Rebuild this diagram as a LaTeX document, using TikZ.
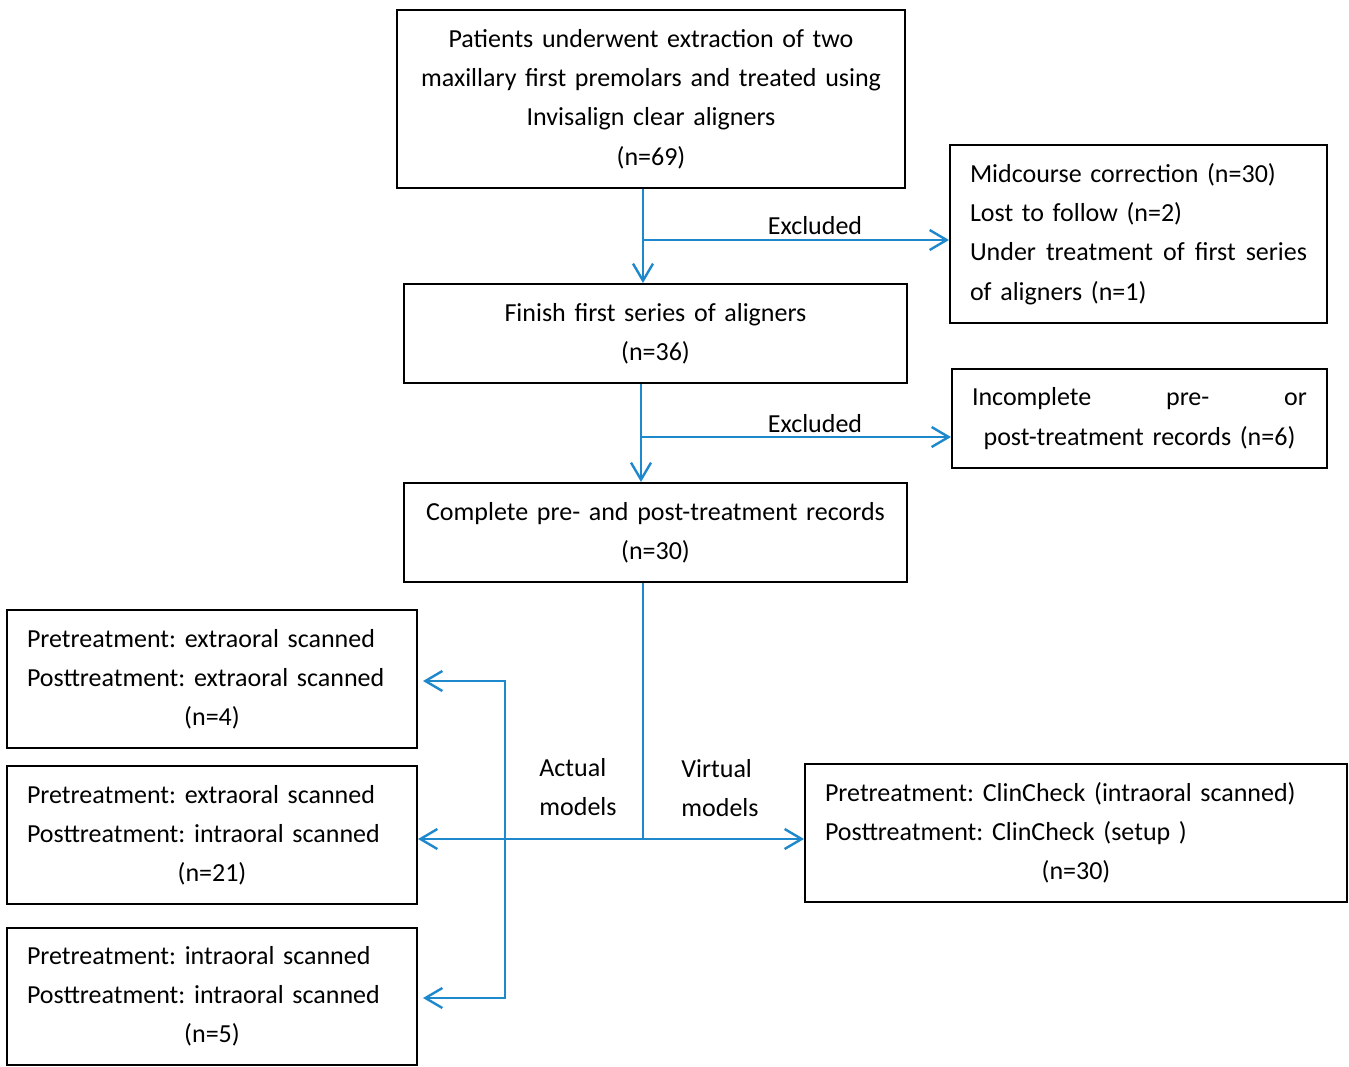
\documentclass[tikz,border=0pt]{standalone}
\usepackage{fontspec}
\setmainfont{Carlito}
\frenchspacing
\usetikzlibrary{arrows.meta}
\definecolor{flowblue}{RGB}{30,136,205}
\tikzset{
  box/.style={draw,line width=1pt,inner xsep=10pt,inner ysep=0pt,font=\fontsize{13}{19.6}\selectfont},
  lbl/.style={inner sep=0pt,font=\fontsize{13}{19.6}\selectfont},
  flow/.style={draw=flowblue,line width=1.2pt},
  arr/.style={flow,-{Straight Barb[length=8.5pt,width=10pt,line width=1.2pt]}}
}

\begin{document}
\begin{tikzpicture}[x=0.5pt,y=-0.5pt]
    \useasboundingbox (0,0) rectangle (1349,1066);
    \node[box,text width=234pt,align=center,minimum height=89pt](P)at(651,99){Patients underwent extraction of two\\maxillary first premolars and treated using\\Invisalign clear aligners\\(n=69)};
    \node[box,text width=168.5pt,align=left,minimum height=89pt](E1)at(1138.5,234){Midcourse correction (n=30)\\Lost to follow (n=2)\\Under\hfill treatment\hfill of\hfill first\hfill series\\of aligners (n=1)};
    \node[box,text width=231.5pt,align=center,minimum height=49.5pt](F)at(655.5,333.5){Finish first series of aligners\\(n=36)};
    \node[box,text width=167.5pt,align=center,minimum height=49.5pt](E2)at(1139.5,418.5){Incomplete\hfill pre-\hfill or\\post-treatment records (n=6)};
    \node[box,text width=231.5pt,align=center,minimum height=49.5pt](C)at(655.5,532.5){Complete pre- and post-treatment records\\(n=30)};
    \node[box,text width=185pt,align=left,minimum height=69pt](L1)at(212,679){Pretreatment: extraoral scanned\\Posttreatment: extraoral scanned\\\hfill(n=4)\hfill\null};
    \node[box,text width=185pt,align=left,minimum height=69pt](L2)at(212,835){Pretreatment: extraoral scanned\\Posttreatment: intraoral scanned\\\hfill(n=21)\hfill\null};
    \node[box,text width=185pt,align=left,minimum height=68.5pt](L3)at(212,996.5){Pretreatment: intraoral scanned\\Posttreatment: intraoral scanned\\\hfill(n=5)\hfill\null};
    \node[box,text width=251pt,align=left,minimum height=69pt](V)at(1076,833){Pretreatment: ClinCheck (intraoral scanned)\\Posttreatment: ClinCheck (setup )\\\hfill(n=30)\hfill\null};
    % branch points
    \coordinate(j1)at(643,240);
    \coordinate(j2)at(641,437);
    \coordinate(j3)at(643,839);
    \coordinate(j4)at(505,681);
    \coordinate(j5)at(505,998);
    \draw[arr](j1|-P.south)--(j1|-F.north);
    \draw[arr](j1)--(j1-|E1.west);
    \draw[arr](j2|-F.south)--(j2|-C.north);
    \draw[arr](j2)--(j2-|E2.west);
    \draw[flow](j3|-C.south)--(j3);
    \draw[arr](j3)--(j3-|V.west);
    \draw[arr](j3)--(j3-|L2.east);
    \draw[arr,{Straight Barb[length=8.5pt,width=10pt,line width=1.2pt]}-{Straight Barb[length=8.5pt,width=10pt,line width=1.2pt]},shorten <=2.5pt,shorten >=2.5pt](j4-|L1.east)--(j4)--(j5)--(j5-|L3.east);
    \node[lbl](x1)at(815,226){Excluded};
    \node[lbl](x2)at(815,424){Excluded};
    \node[lbl,align=left,anchor=west](am)at(539,787){Actual\\models};
    \node[lbl,align=left,anchor=west](vm)at(681,788){Virtual\\models};
  \end{tikzpicture}
\end{document}
